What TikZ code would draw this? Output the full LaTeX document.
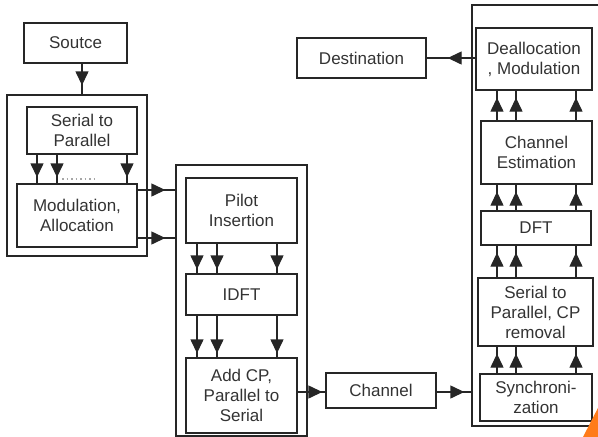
\documentclass[tikz,border=0pt]{standalone}
\usepackage{fontspec}
\setmainfont{Liberation Sans}
\usetikzlibrary{arrows.meta}

\tikzset{
    blk/.style={draw=black!85, line width=1.4pt, align=center, inner sep=0pt,
        text=black!80, font=\fontsize{17}{20}\selectfont},
    frame/.style={draw=black!85, line width=1.4pt, inner sep=0pt},
    flow/.style={draw=black!85, line width=1.4pt,
        postaction={draw, -{Triangle[length=14pt,width=13pt]}, shorten >=#1}},
    flow/.default=5pt
}

\begin{document}
\begin{tikzpicture}[x=1pt,y=-1pt]

    \useasboundingbox (0,0) rectangle (598,437);
    \clip (0,0) rectangle (598,437);

    %--------------------------------
    % Sender
    %--------------------------------
    \node[blk, minimum width=103pt, minimum height=40pt] (src) at (75.5,43) {Soutce};
    \node[frame, minimum width=140pt, minimum height=161pt] (tx1) at (77,175.5) {};
    \node[blk, minimum width=110pt, minimum height=47pt] (s2p) at (82,130.5) {Serial to\\Parallel};
    \node[blk, minimum width=120pt, minimum height=63pt] (mod) at (77,215.5) {Modulation,\\Allocation};

    \node[frame, minimum width=131pt, minimum height=271pt] (tx2) at (241.5,300.5) {};
    \node[blk, minimum width=111pt, minimum height=65pt] (pilot) at (241.5,210.5) {Pilot\\Insertion};
    \node[blk, minimum width=111pt, minimum height=41pt] (idft) at (241.5,294.5) {IDFT};
    \node[blk, minimum width=111pt, minimum height=75pt] (addcp) at (241.5,395.5) {Add CP,\\Parallel to\\Serial};

    \node[blk, minimum width=110pt, minimum height=35pt] (chan) at (381,390.5) {Channel};

    %--------------------------------
    % Receiver
    %--------------------------------
    \node[frame, minimum width=132pt, minimum height=421pt] (rx) at (538,215.5) {};
    \node[blk, minimum width=116pt, minimum height=62pt] (dealloc) at (534,59) {Deallocation\\, Modulation};
    \node[blk, minimum width=111pt, minimum height=63pt] (chest) at (536.5,152.5) {Channel\\Estimation};
    \node[blk, minimum width=110pt, minimum height=34pt] (dft) at (536,228) {DFT};
    \node[blk, minimum width=115pt, minimum height=68pt] (s2pcp) at (535.5,312) {Serial to\\Parallel, CP\\removal};
    \node[blk, minimum width=112pt, minimum height=47pt] (sync) at (536,397.5) {Synchroni-\\zation};

    \node[blk, minimum width=129pt, minimum height=40pt] (dest) at (361.5,58) {Destination};

    %--------------------------------
    % Connectors
    %--------------------------------
    \draw[flow=9pt] (src.south -| 82,0) -- (tx1.north -| 82,0);

    \foreach \x in {37,57,127}{
        \draw[flow=6pt] (s2p.south -| \x,0) -- (mod.north -| \x,0);
    }
    \draw[gray!70, line width=1.2pt, dash pattern=on 1.5pt off 3pt] (62,179) -- (97,179);

    \foreach \y in {190,238}{
        \draw[flow=10pt] (mod.east |- 0,\y) -- (tx2.west |- 0,\y);
    }

    \foreach \x in {197,217,277}{
        \draw[flow=4pt] (pilot.south -| \x,0) -- (idft.north -| \x,0);
        \draw[flow=4pt] (idft.south -| \x,0) -- (addcp.north -| \x,0);
    }

    \draw[flow=3pt] (addcp.east |- 0,392) -- (chan.west |- 0,392);
    \draw[flow=7pt] (chan.east |- 0,392) -- (rx.west |- 0,392);

    \foreach \x in {497,516,576}{
        \draw[flow=7pt] (sync.north -| \x,0) -- (s2pcp.south -| \x,0);
        \draw[flow=7pt] (s2pcp.north -| \x,0) -- (dft.south -| \x,0);
        \draw[flow=7pt] (dft.north -| \x,0) -- (chest.south -| \x,0);
        \draw[flow=7pt] (chest.north -| \x,0) -- (dealloc.south -| \x,0);
    }

    \draw[flow=21pt] (dealloc.west |- 0,58) -- (dest.east |- 0,58);

    % corner
    \fill[orange!85!red!90!white] (583,437) -- (600,404) -- (600,437) -- cycle;

\end{tikzpicture}
\end{document}
